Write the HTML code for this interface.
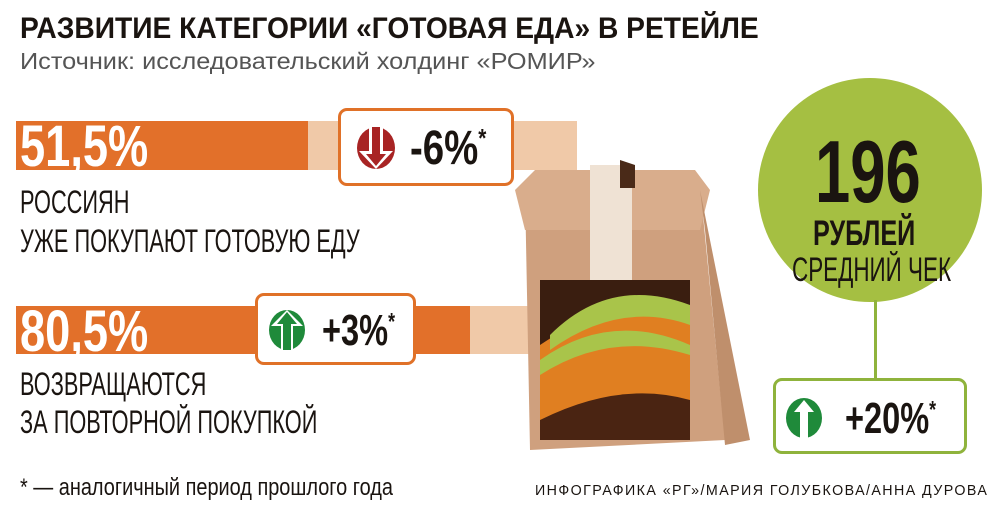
<!DOCTYPE html>
<html><head><meta charset="utf-8"><style>
*{margin:0;padding:0;box-sizing:border-box}
body{width:1000px;height:509px;background:#fff;position:relative;overflow:hidden;font-family:"Liberation Sans","DejaVu Sans",sans-serif;color:#1a1410}
.a{position:absolute;white-space:nowrap;transform-origin:0 0}
.box{position:absolute;background:#fff;border:3px solid #e07128;border-radius:9px}
</style></head><body>
<div class="a" style="left:20px;top:12px;font-size:30px;font-weight:bold;transform:scaleX(0.94)">РАЗВИТИЕ КАТЕГОРИИ «ГОТОВАЯ ЕДА» В РЕТЕЙЛЕ</div>
<div class="a" style="left:20px;top:48px;font-size:23px;color:#555;transform:scaleX(1.1)">Источник: исследовательский холдинг «РОМИР»</div>

<div class="a" style="left:16px;top:121px;width:292px;height:49px;background:#e2702a"></div>
<div class="a" style="left:308px;top:121px;width:269px;height:49px;background:#f0c9a8"></div>
<div class="a" style="left:20px;top:113px;font-size:58px;font-weight:bold;color:#fff;transform:scaleX(0.78)">51,5%</div>
<div class="box" style="left:338px;top:108px;width:176px;height:78px"></div>
<svg class="a" style="left:356px;top:127px" width="40" height="42"><ellipse cx="20" cy="21" rx="19" ry="21" fill="#a82424"/><path d="M13 0h14v24h10L20 42 3 24h10z" fill="#fff"/><path d="M16 0h8v27h6L20 39 10 27h6z" fill="#a82424"/></svg>
<div class="a" style="left:410px;top:121px;font-size:48px;font-weight:bold;transform:scaleX(0.8)">-6%<sup style="font-size:26px">*</sup></div>
<div class="a" style="left:20px;top:184px;font-size:32px;transform:scaleX(0.68)">РОССИЯН</div>
<div class="a" style="left:20px;top:223px;font-size:32px;transform:scaleX(0.68)">УЖЕ ПОКУПАЮТ ГОТОВУЮ ЕДУ</div>

<div class="a" style="left:16px;top:306px;width:454px;height:48px;background:#e2702a"></div>
<div class="a" style="left:470px;top:306px;width:90px;height:48px;background:#f0c9a8"></div>
<div class="a" style="left:20px;top:298px;font-size:58px;font-weight:bold;color:#fff;transform:scaleX(0.78)">80,5%</div>
<div class="box" style="left:255px;top:293px;width:161px;height:72px"></div>
<svg class="a" style="left:268px;top:310px" width="38" height="40"><ellipse cx="19" cy="20" rx="18" ry="20" fill="#1f8a3a"/><path d="M13 40V16H3L19 0l16 16H25v24z" fill="#fff"/><path d="M15 40V14H9L19 2l10 12h-6v26z" fill="#1f8a3a"/></svg>
<div class="a" style="left:322px;top:306px;font-size:44px;font-weight:bold;transform:scaleX(0.74)">+3%<sup style="font-size:24px">*</sup></div>
<div class="a" style="left:20px;top:366px;font-size:32px;transform:scaleX(0.68)">ВОЗВРАЩАЮТСЯ</div>
<div class="a" style="left:20px;top:404px;font-size:32px;transform:scaleX(0.68)">ЗА ПОВТОРНОЙ ПОКУПКОЙ</div>
<div class="a" style="left:20px;top:474px;font-size:24px;transform:scaleX(0.83)">* — аналогичный период прошлого года</div>

<svg class="a" style="left:510px;top:160px" width="250" height="300">
<polygon points="15,30 190,25 215,280 20,290" fill="#cfa07e"/>
<polygon points="5,30 25,10 185,10 200,30 190,70 15,70" fill="#d9ad8c"/>
<polygon points="190,30 240,280 215,285 195,70" fill="#bf8f6c"/>
<rect x="80" y="5" width="42" height="155" fill="#efe2d4"/>
<polygon points="110,0 125,5 125,28 110,28" fill="#4a2a18"/>
<rect x="30" y="120" width="150" height="160" fill="#e07f21"/>
<path d="M30 120h150v30q-60-25-150 35z" fill="#3a1e10"/>
<path d="M40 175q60-60 140-30v20q-70-25-140 25z" fill="#a9c44a"/>
<path d="M30 200q70-50 150-15v10q-80-25-150 20z" fill="#a9c44a"/>
<path d="M30 260q80-40 150-20v40H30z" fill="#4a2412"/>
</svg>

<div class="a" style="left:758px;top:78px;width:224px;height:224px;border-radius:50%;background:#a5bf42"></div>
<div class="a" style="left:815px;top:128px;font-size:88px;font-weight:bold;transform:scaleX(0.72);line-height:1">196</div>
<div class="a" style="left:813px;top:214px;font-size:35px;font-weight:bold;transform:scaleX(0.72)">РУБЛЕЙ</div>
<div class="a" style="left:792px;top:251px;font-size:34px;transform:scaleX(0.66)">СРЕДНИЙ ЧЕК</div>
<div class="a" style="left:874px;top:300px;width:3px;height:80px;background:#8fb33c"></div>
<div class="box" style="left:773px;top:378px;width:194px;height:76px;border-color:#8fb33c"></div>
<svg class="a" style="left:785px;top:398px" width="38" height="40"><ellipse cx="19" cy="20" rx="18" ry="20" fill="#1f8a3a"/><path d="M15 40V14H9L19 2l10 12h-6v26z" fill="#fff"/></svg>
<div class="a" style="left:845px;top:394px;font-size:44px;font-weight:bold;transform:scaleX(0.74)">+20%<sup style="font-size:24px">*</sup></div>
<div class="a" style="left:535px;top:482px;font-size:15px;letter-spacing:1.5px;transform:scaleX(0.95)">ИНФОГРАФИКА «РГ»/МАРИЯ ГОЛУБКОВА/АННА ДУРОВА</div>
</body></html>
